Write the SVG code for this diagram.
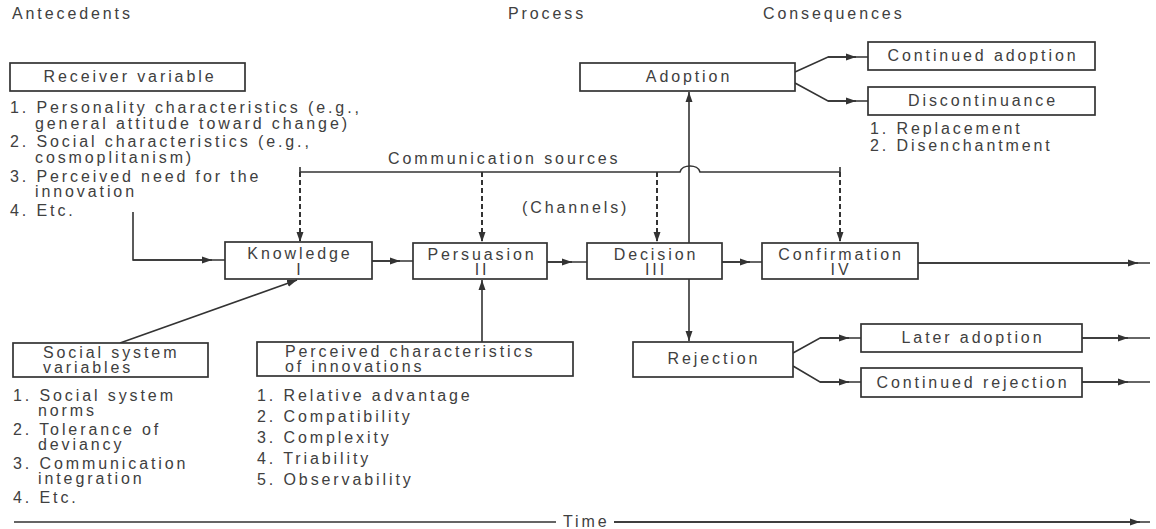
<svg xmlns="http://www.w3.org/2000/svg" width="1156" height="529" viewBox="0 0 1156 529">
  <style>
    text { font-family: "Liberation Sans", Arial, sans-serif; font-size: 16px; letter-spacing: 2.9px; fill: #404040; }
    .c { text-anchor: middle; }
    .box { fill: #ffffff; stroke: #333333; stroke-width: 1.7; }
    .ln { fill: none; stroke: #333333; stroke-width: 1.6; }
    .dash { fill: none; stroke: #333333; stroke-width: 2; stroke-dasharray: 5 3; }
  </style>
  <defs>
    <marker id="ah" viewBox="0 0 10 8" refX="10" refY="4" markerWidth="10" markerHeight="8" markerUnits="userSpaceOnUse" orient="auto">
      <path d="M0,0.5 L10,4 L0,7.5 Z" fill="#333333"/>
    </marker>
  </defs>

  <rect width="1156" height="529" fill="#ffffff"/>

  <!-- column headings -->
  <g id="headings">
    <text x="12" y="19">Antecedents</text>
    <text x="508" y="19">Process</text>
    <text x="763" y="19">Consequences</text>
  </g>

  <!-- connectors -->
  <g id="connectors">
    <!-- communication sources bus with a hop over the adoption line -->
    <path class="ln" d="M300,172 H680 C682,164 698,164 700,172 H840"/>
    <path class="ln" d="M300,167 V172 M840,167 V172"/>
    <path class="dash" d="M300,172 V242" marker-end="url(#ah)"/>
    <path class="dash" d="M482,172 V242" marker-end="url(#ah)"/>
    <path class="dash" d="M657,172 V242" marker-end="url(#ah)"/>
    <path class="dash" d="M840,172 V242" marker-end="url(#ah)"/>

    <!-- receiver variables into knowledge -->
    <path class="ln" d="M133,212 V260 H225"/>
    <path class="ln" d="M133,260 H212" marker-end="url(#ah)"/>

    <!-- stage to stage -->
    <path class="ln" d="M372,261 H413"/>
    <path class="ln" d="M372,261 H400" marker-end="url(#ah)"/>
    <path class="ln" d="M547,262 H587"/>
    <path class="ln" d="M547,262 H572" marker-end="url(#ah)"/>
    <path class="ln" d="M722,262 H762"/>
    <path class="ln" d="M722,262 H750" marker-end="url(#ah)"/>
    <path class="ln" d="M918,263 H1150"/>
    <path class="ln" d="M918,263 H1138" marker-end="url(#ah)"/>

    <!-- decision outcomes -->
    <path class="ln" d="M689,243 V92" marker-end="url(#ah)"/>
    <path class="ln" d="M689,279 V341" marker-end="url(#ah)"/>

    <!-- adoption branches -->
    <path class="ln" d="M795,72 L828,57 H868"/>
    <path class="ln" d="M828,57 H856" marker-end="url(#ah)"/>
    <path class="ln" d="M795,83 L828,101 H868"/>
    <path class="ln" d="M828,101 H856" marker-end="url(#ah)"/>

    <!-- rejection branches -->
    <path class="ln" d="M793,353 L820,338 H861"/>
    <path class="ln" d="M820,338 H849" marker-end="url(#ah)"/>
    <path class="ln" d="M793,366 L820,382 H861"/>
    <path class="ln" d="M820,382 H849" marker-end="url(#ah)"/>
    <path class="ln" d="M1082,338 H1150"/>
    <path class="ln" d="M1082,338 H1128" marker-end="url(#ah)"/>
    <path class="ln" d="M1082,382 H1150"/>
    <path class="ln" d="M1082,382 H1128" marker-end="url(#ah)"/>

    <!-- antecedent influences -->
    <path class="ln" d="M120,343 L297,280" marker-end="url(#ah)"/>
    <path class="ln" d="M482,342 V280" marker-end="url(#ah)"/>

    <!-- time axis -->
    <path class="ln" d="M14,522 H556 M614,522 H1150"/>
    <path class="ln" d="M614,522 H1140" marker-end="url(#ah)"/>
  </g>

  <g id="channels-label">
    <text x="388" y="164">Communication sources</text>
    <text x="522" y="213">(Channels)</text>
  </g>

  <g id="receiver-variable">
    <rect class="box" x="10" y="63" width="235" height="28"/>
    <text class="c" x="130" y="82">Receiver variable</text>
    <text x="10" y="113">1. Personality characteristics (e.g.,</text>
    <text x="35" y="129">general attitude toward change)</text>
    <text x="10" y="147">2. Social characteristics (e.g.,</text>
    <text x="35" y="163">cosmoplitanism)</text>
    <text x="10" y="182">3. Perceived need for the</text>
    <text x="35" y="197">innovation</text>
    <text x="10" y="216">4. Etc.</text>
  </g>

  <g id="knowledge">
    <rect class="box" x="225" y="242" width="147" height="37"/>
    <text class="c" x="300" y="259">Knowledge</text>
    <text class="c" x="300" y="275">I</text>
  </g>

  <g id="persuasion">
    <rect class="box" x="413" y="243" width="134" height="36"/>
    <text class="c" x="482" y="260">Persuasion</text>
    <text class="c" x="482" y="275">II</text>
  </g>

  <g id="decision">
    <rect class="box" x="587" y="243" width="135" height="36"/>
    <text class="c" x="656" y="260">Decision</text>
    <text class="c" x="656" y="275">III</text>
  </g>

  <g id="confirmation">
    <rect class="box" x="762" y="243" width="156" height="36"/>
    <text class="c" x="841" y="260">Confirmation</text>
    <text class="c" x="841" y="275">IV</text>
  </g>

  <g id="adoption">
    <rect class="box" x="580" y="63" width="215" height="28"/>
    <text class="c" x="689" y="82">Adoption</text>
  </g>

  <g id="continued-adoption">
    <rect class="box" x="868" y="42" width="227" height="28"/>
    <text class="c" x="983" y="61">Continued adoption</text>
  </g>

  <g id="discontinuance">
    <rect class="box" x="868" y="87" width="227" height="28"/>
    <text class="c" x="983" y="106">Discontinuance</text>
    <text x="870" y="134">1. Replacement</text>
    <text x="870" y="151">2. Disenchantment</text>
  </g>

  <g id="rejection">
    <rect class="box" x="633" y="342" width="160" height="35"/>
    <text class="c" x="714" y="364">Rejection</text>
  </g>

  <g id="later-adoption">
    <rect class="box" x="861" y="324" width="221" height="28"/>
    <text class="c" x="973" y="343">Later adoption</text>
  </g>

  <g id="continued-rejection">
    <rect class="box" x="861" y="368" width="221" height="29"/>
    <text class="c" x="973" y="388">Continued rejection</text>
  </g>

  <g id="social-system-variables">
    <rect class="box" x="13" y="343" width="195" height="34"/>
    <text x="43" y="358">Social system</text>
    <text x="43" y="373">variables</text>
    <text x="13" y="401">1. Social system</text>
    <text x="38" y="416">norms</text>
    <text x="13" y="435">2. Tolerance of</text>
    <text x="38" y="450">deviancy</text>
    <text x="13" y="469">3. Communication</text>
    <text x="38" y="484">integration</text>
    <text x="13" y="503">4. Etc.</text>
  </g>

  <g id="perceived-characteristics">
    <rect class="box" x="257" y="342" width="316" height="34"/>
    <text x="285" y="357">Perceived characteristics</text>
    <text x="285" y="372">of innovations</text>
    <text x="257" y="401">1. Relative advantage</text>
    <text x="257" y="422">2. Compatibility</text>
    <text x="257" y="443">3. Complexity</text>
    <text x="257" y="464">4. Triability</text>
    <text x="257" y="485">5. Observability</text>
  </g>

  <g id="time-label">
    <text x="563" y="527">Time</text>
  </g>
</svg>
